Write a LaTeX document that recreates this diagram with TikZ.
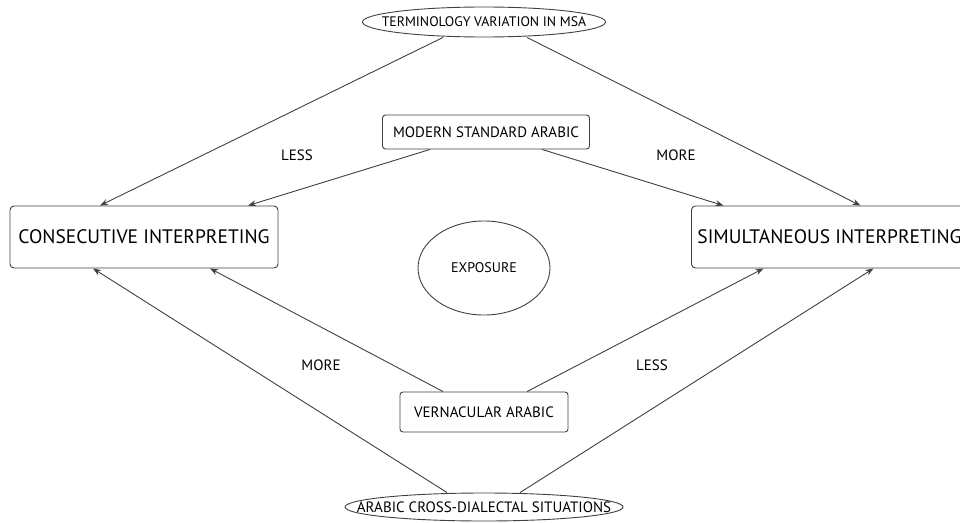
\documentclass[tikz,border=0pt]{standalone}
\usepackage{fontspec}
\setmainfont{PT Sans}
\usetikzlibrary{shapes.geometric,arrows.meta}
\begin{document}
\begin{tikzpicture}[x=1pt,y=-1pt,
  line/.style={draw=black!75,line width=0.9pt},
  conn/.style={line,-{Stealth[length=8pt,width=6pt]}},
  boxs/.style={line,rounded corners=3pt,inner sep=0pt,font=\fontsize{15}{17}\selectfont},
  bigbox/.style={line,rounded corners=4pt,inner sep=0pt,font=\fontsize{19.5}{22}\selectfont},
  ell/.style={line,ellipse,inner sep=0pt,font=\fontsize{15}{17}\selectfont},
  lab/.style={font=\fontsize{15}{17}\selectfont,inner sep=0pt}]
\useasboundingbox (0,0) rectangle (960,522);
\node[ell,minimum width=243pt,minimum height=30pt,font=\fontsize{13.8}{16}\selectfont] (top) at (484,22) {\makebox[0pt]{TERMINOLOGY VARIATION IN MSA}};
\node[boxs,minimum width=207pt,minimum height=34pt] (msa) at (486,132) {MODERN STANDARD ARABIC};
\node[bigbox,minimum width=268pt,minimum height=62pt] (cons) at (144,237) {CONSECUTIVE INTERPRETING};
\node[bigbox,minimum height=62pt,inner xsep=6pt,anchor=west] (sim) at (691,237) {\makebox[274pt][l]{SIMULTANEOUS INTERPRETING}};
\node[ell,minimum width=132pt,minimum height=94pt,font=\fontsize{14}{16}\selectfont] (exp) at (484,268) {\makebox[0pt]{EXPOSURE}};
\node[boxs,minimum width=168pt,minimum height=40pt] (vern) at (484,412) {VERNACULAR ARABIC};
\node[ell,minimum width=278pt,minimum height=28pt] (bot) at (484,507) {\makebox[0pt]{ARABIC CROSS-DIALECTAL SITUATIONS}};
\node[lab] (l1) at (297,155) {LESS};
\node[lab] (l2) at (676,155) {MORE};
\node[lab] (l3) at (321,365) {MORE};
\node[lab] (l4) at (652,365) {LESS};
\draw[conn] ([xshift=-41pt]top.south) -- ([xshift=-44pt]cons.north);
\draw[conn] ([xshift=43pt]top.south) -- ([xshift=26pt]sim.north);
\draw[conn] ([xshift=-56pt]msa.south) -- ([xshift=104pt]cons.north);
\draw[conn] ([xshift=56pt]msa.south) -- ([xshift=-111pt]sim.north);
\draw[conn] ([xshift=-41pt]vern.north) -- ([xshift=66pt]cons.south);
\draw[conn] ([xshift=43pt]vern.north) -- ([xshift=-71pt]sim.south);
\draw[conn] ([xshift=-37pt]bot.north) -- ([xshift=-51pt]cons.south);
\draw[conn] ([xshift=36pt]bot.north) -- ([xshift=39pt]sim.south);
\end{tikzpicture}
\end{document}
